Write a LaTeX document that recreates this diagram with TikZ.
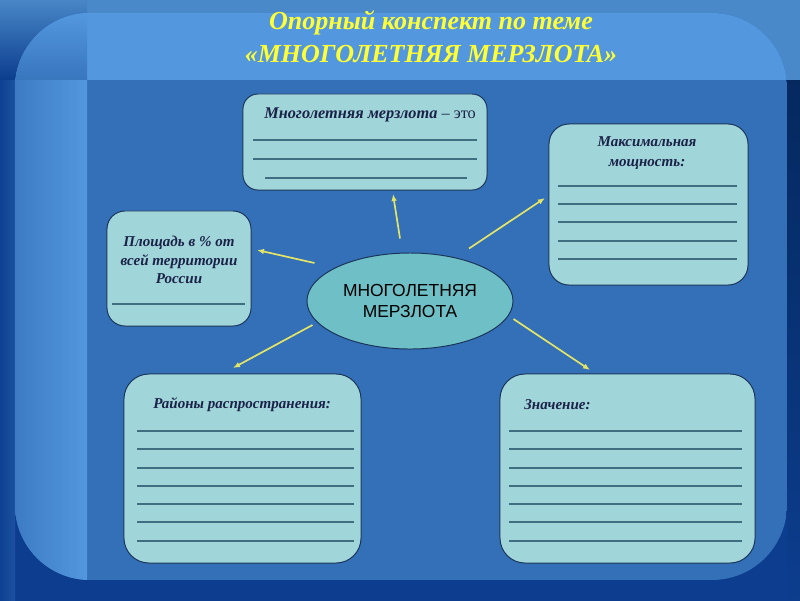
\documentclass[tikz,border=0pt]{standalone}
\usepackage{fontspec}
\setmainfont{Liberation Serif}
\setsansfont{Liberation Sans}
\usetikzlibrary{shapes.geometric,arrows.meta,calc}
\definecolor{bgdark}{HTML}{0C3D8E}
\definecolor{bgtop}{HTML}{4A89C9}
\definecolor{bgmain}{HTML}{3370B8}
\definecolor{bglight}{HTML}{5397DF}
\definecolor{bgnavy}{HTML}{05295F}
\definecolor{boxfill}{HTML}{A0D5D9}
\definecolor{boxedge}{HTML}{1A3559}
\definecolor{ellfill}{HTML}{6FBFC6}
\definecolor{rulecol}{HTML}{3F6E80}
\definecolor{titlecol}{HTML}{FFFF33}
\definecolor{arrcol}{HTML}{E4E466}
\definecolor{textcol}{HTML}{1B2248}
\begin{document}
\begin{tikzpicture}[x=0.025cm,y=-0.025cm,
  cardbox/.style={draw=boxedge,line width=0.7pt,fill=boxfill,inner sep=0pt,outer sep=0pt},
  cardtext/.style={text=textcol,font=\fontsize{10.7}{14}\selectfont\bfseries\itshape,inner sep=0pt},
  rulel/.style={draw=rulecol,line width=1.1pt},
  arr/.style={draw=arrcol,line width=1.2pt,-{Latex[length=5pt,width=4pt]}}]
\useasboundingbox (0,0) rectangle (800,600);
% background
\fill[bgdark] (-3,-3) rectangle (803,603);
\fill[bgtop] (-3,-3) rectangle (803,80);
\shade[top color=bgtop,bottom color=bgdark] (-3,-3) rectangle (87,80);
\shade[left color=bgdark,right color=bgdark!60!bgmain] (-3,80) rectangle (15,603);
\shade[top color=bgnavy,bottom color=bgdark] (787,80) rectangle (803,603);
\begin{scope}
  \clip[rounded corners=1.875cm] (15,13) rectangle (787,580);
  \fill[bgmain] (15,13) rectangle (787,580);
  \fill[bglight] (15,13) rectangle (787,80);
  \shade[top color=bglight,bottom color=bgmain!85!bglight] (15,13) rectangle (87,80);
  \shade[left color=bgmain!70!bglight,right color=bglight] (15,80) rectangle (87,580);
\end{scope}
% title
\node[text=titlecol,font=\fontsize{18.5}{23.5}\selectfont\bfseries\itshape,align=center,inner sep=0pt]
  (title) at (431,37) {Опорный конспект по теме\\«МНОГОЛЕТНЯЯ МЕРЗЛОТА»};
% boxes
\node[cardbox,rounded corners=0.375cm,minimum width=6.1cm,minimum height=2.4cm] (top) at (365,142) {};
\node[cardbox,rounded corners=0.5cm,minimum width=4.975cm,minimum height=4.025cm] (maxb) at (648.5,204.5) {};
\node[cardbox,rounded corners=0.45cm,minimum width=3.6cm,minimum height=2.875cm] (area) at (179,268.5) {};
\node[cardbox,rounded corners=0.625cm,minimum width=5.925cm,minimum height=4.725cm] (reg) at (242.5,468.5) {};
\node[cardbox,rounded corners=0.625cm,minimum width=6.375cm,minimum height=4.725cm] (val) at (627.5,468.5) {};
\node[ellipse,draw=boxedge,line width=0.7pt,fill=ellfill,minimum width=5.15cm,minimum height=2.4cm,inner sep=0pt,
  align=center,font=\fontsize{12.4}{14.8}\selectfont\sffamily,text=black] (ell) at (410,301) {МНОГОЛЕТНЯЯ\\МЕРЗЛОТА};
% box texts
\node[cardtext,anchor=west,font=\fontsize{11.6}{14}\selectfont\bfseries\itshape] (topt) at (264,115) {Многолетняя мерзлота {\normalfont\upshape – это}};
\node[cardtext,align=center] (maxt) at (647,153) {Максимальная\\мощность:};
\node[cardtext,align=center,font=\fontsize{10.7}{13.3}\selectfont\bfseries\itshape] (areat) at (179,260) {Площадь в \% от\\всей территории\\России};
\node[cardtext,anchor=west] (regt) at (153,405) {Районы распространения:};
\node[cardtext,anchor=west] (valt) at (524,405) {Значение:};
% rules
\draw[rulel] (253,140) -- (477,140) (253,159) -- (477,159) (265,178) -- (467,178);
\foreach \yy in {186,204,222,241,259} \draw[rulel] (558,\yy) -- (737,\yy);
\draw[rulel] (112,304) -- (245,304);
\foreach \yy in {431,449,468,486,504,522,541} {
  \draw[rulel] (137,\yy) -- (354,\yy);
  \draw[rulel] (509,\yy) -- (742,\yy);
}
% arrows
\draw[arr] ($(ell.north)+(-10,-14)$) -- ($(top.south)+(28,4)$);
\draw[arr] ($(ell.west)+(8,-38)$) -- ($(area.east)+(6,-18.5)$);
\draw[arr] ($(ell.north)+(59,-4)$) -- ($(maxb.west)+(-4,-6.5)$);
\draw[arr] ($(ell.west)+(6,24)$) -- ($(reg.north)+(-9.5,-6)$);
\draw[arr] ($(ell.east)+(0,18)$) -- ($(val.north)+(-37.5,-4)$);
\end{tikzpicture}
\end{document}
